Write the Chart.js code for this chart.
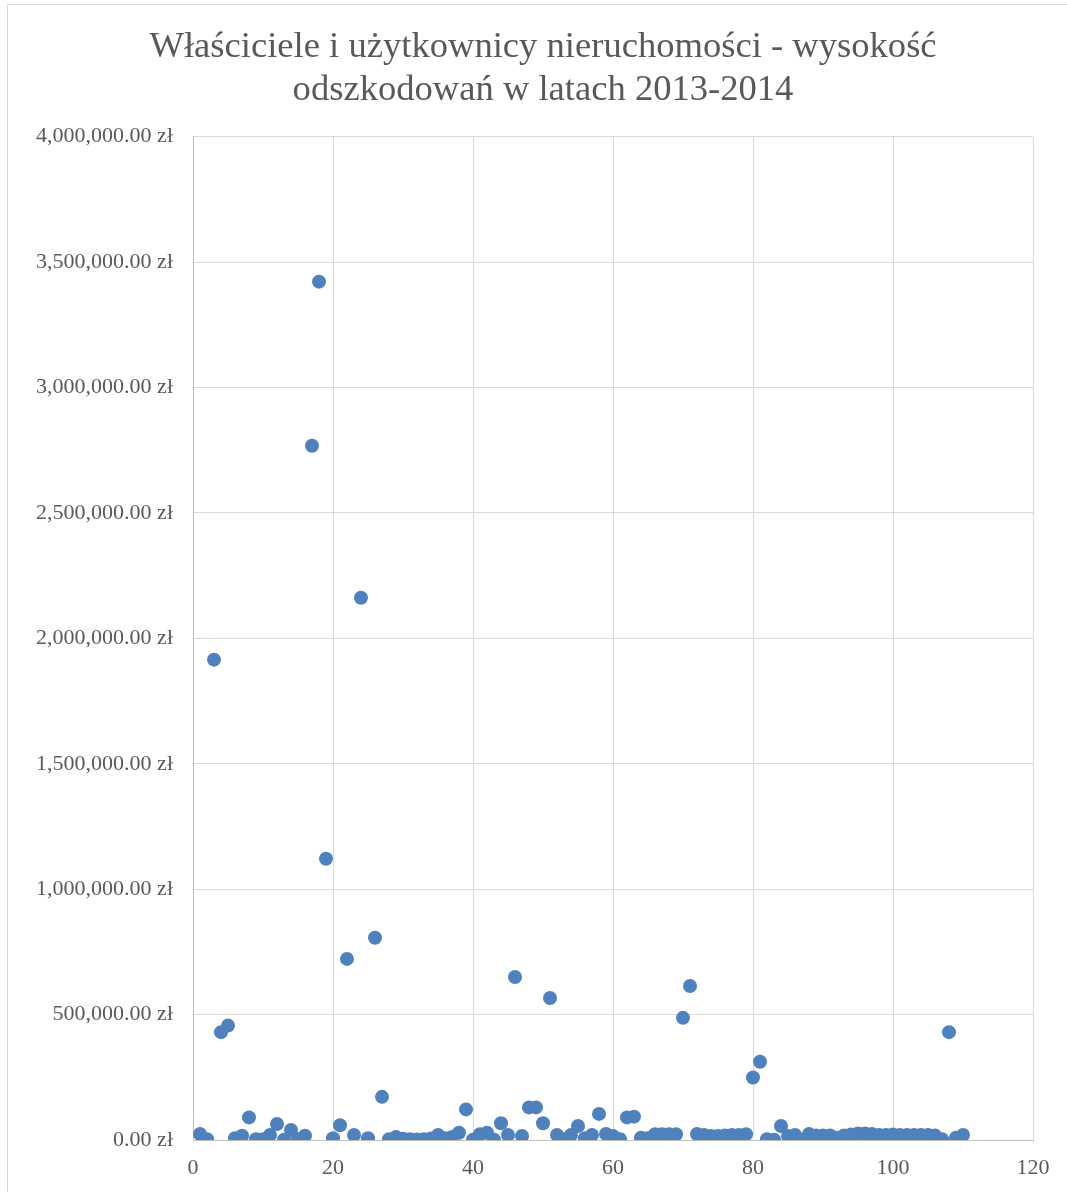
<!DOCTYPE html>
<html>
<head>
<meta charset="utf-8">
<script src="https://cdn.jsdelivr.net/npm/chart.js@4"></script>
<style>
  body { margin: 0; background: #fff; }
  #wrap { position: relative; width: 1067px; height: 1192px; }
  #frame { position: absolute; left: 7px; top: 4px; width: 1100px; height: 1250px; border: 1px solid #d9d9d9; }
  canvas { position: absolute; left: 0; top: 0; }
</style>
</head>
<body>
<div id="wrap">
  <div id="frame"></div>
  <canvas id="myChart" width="1067" height="1192"></canvas>
</div>
<script>
// numer pozycji (1..110) i wysokość odszkodowania w zł
const positions = [];
for (let i = 1; i <= 110; i++) positions.push(i);

const amounts = [
  24000, 3000, 1915000, 430000, 456000, 7000, 17000, 90000, 3000, 3000,      // 1-10
  20000, 64000, 1000, 40000, 3000, 17000, 2768000, 3422000, 1121000, 7000,   // 11-20
  59000, 722000, 20000, 2162000, 7000, 806000, 172000, 3000, 12000, 5000,    // 21-30
  3000, 2000, 3000, 6000, 20000, 7000, 12000, 29000, 122000, 1000,           // 31-40
  23000, 29000, 1000, 67000, 20000, 650000, 16000, 130000, 130000, 67000,    // 41-50
  566000, 20000, 3000, 20000, 56000, 7000, 20000, 104000, 24000, 16000,      // 51-60
  3000, 90000, 93000, 9000, 7000, 23000, 23000, 23000, 23000, 487000,        // 61-70
  614000, 24000, 20000, 16000, 16000, 18000, 20000, 20000, 23000, 249000,    // 71-80
  312000, 3000, 1000, 56000, 16000, 20000, 1000, 24000, 18000, 18000,        // 81-90
  18000, 9000, 18000, 22000, 26000, 26000, 24000, 20000, 20000, 22000,       // 91-100
  20000, 20000, 20000, 20000, 20000, 18000, 3000, 430000, 9000, 20000        // 101-110
];

const yTicks = [0, 500000, 1000000, 1500000, 2000000, 2500000, 3000000, 3500000, 4000000];
const xTicks = [0, 20, 40, 60, 80, 100, 120];

const chartTitle = ['Właściciele i użytkownicy nieruchomości - wysokość', 'odszkodowań w latach 2013-2014'];

const points = positions.map((x, i) => ({ x: x, y: amounts[i] }));

const fmtZl = v => v.toLocaleString('en-US', { minimumFractionDigits: 2, maximumFractionDigits: 2 }) + ' zł';

const serif = "'Liberation Serif', 'DejaVu Serif', serif";
const textColor = '#595959';

const ctx = document.getElementById('myChart').getContext('2d');

new Chart(ctx, {
  type: 'scatter',
  data: {
    datasets: [{
      data: points,
      backgroundColor: '#4f81bd',
      borderColor: '#4f81bd',
      borderWidth: 0,
      pointRadius: 7,
      pointHoverRadius: 7
    }]
  },
  options: {
    responsive: false,
    animation: false,
    layout: { padding: { top: 0, right: 0, bottom: 0, left: 19 } },
    plugins: {
      legend: { display: false },
      tooltip: { enabled: false },
      title: {
        display: true,
        text: chartTitle,
        color: textColor,
        font: { family: serif, size: 36.6, weight: 'normal', lineHeight: 1.17 },
        padding: { top: 26, bottom: 25 }
      }
    },
    scales: {
      x: {
        type: 'linear',
        min: 0,
        max: 120,
        afterBuildTicks: s => { s.ticks = xTicks.map(v => ({ value: v })); },
        afterFit: s => { s.height = 52; },
        grid: { color: '#d9d9d9', lineWidth: 1, drawTicks: false },
        border: { color: '#bfbfbf', width: 1 },
        ticks: {
          color: textColor,
          font: { family: serif, size: 22 },
          padding: 15,
          maxRotation: 0
        }
      },
      y: {
        min: 0,
        max: 4000000,
        afterBuildTicks: s => { s.ticks = yTicks.map(v => ({ value: v })); },
        afterFit: s => { s.width = 174; },
        grid: { color: '#d9d9d9', lineWidth: 1, drawTicks: false },
        border: { color: '#bfbfbf', width: 1 },
        ticks: {
          color: textColor,
          font: { family: serif, size: 22 },
          padding: 20,
          callback: v => fmtZl(v)
        }
      },
      // pusty margines po prawej stronie obszaru wykresu
      yRight: {
        position: 'right',
        afterFit: s => { s.width = 34; },
        grid: { display: false, drawOnChartArea: false },
        border: { display: false },
        ticks: { display: false }
      }
    }
  }
});
</script>
</body>
</html>
